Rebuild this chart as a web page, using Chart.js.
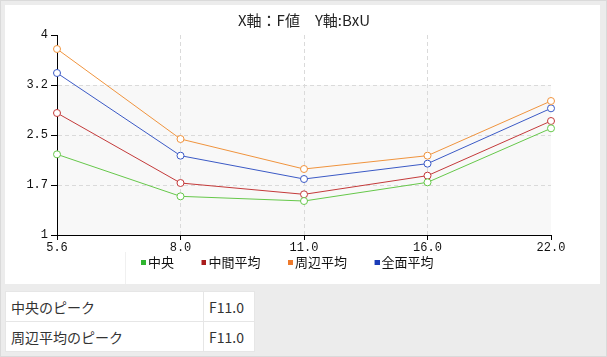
<!DOCTYPE html>
<html>
<head>
<meta charset="utf-8">
<script src="https://cdn.jsdelivr.net/npm/chart.js@4/dist/chart.umd.min.js"></script>
<style>
  html, body { margin: 0; padding: 0; }
  body { width: 607px; height: 357px; position: relative; overflow: hidden; background: #ececec; font-family: "Noto Sans CJK JP", "Noto Sans", sans-serif; }
  #frame { position: absolute; left: 0; top: 0; width: 605px; height: 355px; border: 1px solid #dadada; }
  #panel { position: absolute; left: 5px; top: 5px; width: 595px; height: 279px; background: #fff; }
  #faint { position: absolute; left: 125px; top: 252px; width: 1px; height: 32px; background: #f0f0f0; }
  #chartWrap { position: absolute; left: 0; top: 0; width: 607px; height: 283px; }
  table { position: absolute; left: 5px; top: 291px; border-collapse: collapse; }
  td { background: #fff; border: 1px solid #e6e6e6; height: 29px; padding: 0 0 0 5px; font-size: 14px; color: #333; white-space: nowrap; }
  td.k { width: 192px; }
  td.v { width: 45px; }
</style>
</head>
<body>
<div id="frame"></div>
<div id="panel"></div>
<div id="faint"></div>
<div id="chartWrap"><canvas id="c" width="607" height="283"></canvas></div>
<table id="peaks"></table>
<script>
const titleText = 'X軸：F値　Y軸:BxU';
const categories = ['5.6', '8.0', '11.0', '16.0', '22.0'];
const yTickLabels = ['1', '1.7', '2.5', '3.2', '4'];
const seriesNames = ['中央', '中間平均', '周辺平均', '全面平均'];
const chuo = [2.21, 1.58, 1.51, 1.79, 2.60];
const chukanHeikin = [2.83, 1.78, 1.61, 1.89, 2.71];
const shuhenHeikin = [3.79, 2.44, 1.99, 2.19, 3.01];
const zenmenHeikin = [3.43, 2.19, 1.84, 2.07, 2.90];
const peakLabels = ['中央のピーク', '周辺平均のピーク'];
const peakValues = ['F11.0', 'F11.0'];

const lineColors = ['#66c84a', '#c43a3a', '#f0943e', '#3b5ac6'];
const legendColors = ['#2fb52f', '#a91c1c', '#ee7a2c', '#1b3cb8'];
const seriesData = [chuo, chukanHeikin, shuhenHeikin, zenmenHeikin];

const tbl = document.getElementById('peaks');
peakLabels.forEach((lab, i) => {
  const tr = document.createElement('tr');
  const a = document.createElement('td'); a.className = 'k'; a.textContent = lab;
  const b = document.createElement('td'); b.className = 'v'; b.textContent = peakValues[i];
  tr.appendChild(a); tr.appendChild(b); tbl.appendChild(tr);
});

// legend marker: small square placed at the right end of a wider transparent image
const LEGEND_W = 24;
function makeMarker(color) {
  const cv = document.createElement('canvas');
  cv.width = LEGEND_W + 9; cv.height = 5;
  const c = cv.getContext('2d');
  c.fillStyle = color;
  c.fillRect(cv.width - 5, 0, 5, 5);
  return cv;
}
const markers = legendColors.map(makeMarker);

const bandPlugin = {
  id: 'band',
  beforeDraw(chart) {
    const {ctx, chartArea, scales} = chart;
    const yTop = scales.y.getPixelForValue(3.25);
    ctx.save();
    ctx.fillStyle = '#f8f8f8';
    ctx.fillRect(chartArea.left, yTop, chartArea.right - chartArea.left, chartArea.bottom - yTop);
    ctx.restore();
  }
};

const monoFont = { family: '"Liberation Mono", "DejaVu Sans Mono", monospace', size: 12 };
const cjkFont = '"Noto Sans CJK JP", "Noto Sans", sans-serif';
const PAD_B = 4;

new Chart(document.getElementById('c'), {
  type: 'line',
  data: {
    labels: categories,
    datasets: seriesData.map((d, i) => ({
      label: seriesNames[i],
      data: d,
      borderColor: lineColors[i],
      backgroundColor: legendColors[i],
      borderWidth: 1,
      pointRadius: 3.5,
      pointBorderWidth: 1,
      pointBackgroundColor: '#ffffff',
      pointBorderColor: lineColors[i],
      tension: 0,
      clip: false
    }))
  },
  options: {
    responsive: false,
    animation: false,
    devicePixelRatio: 1,
    layout: { padding: { left: 0, right: 56, top: 0, bottom: PAD_B } },
    plugins: {
      tooltip: { enabled: false },
      title: {
        display: true,
        text: titleText,
        fullSize: false,
        color: '#222',
        font: { family: cjkFont, size: 15, weight: 'normal', lineHeight: 1.2 },
        padding: { top: 11, bottom: 6 }
      },
      legend: {
        display: true,
        position: 'bottom',
        labels: {
          usePointStyle: true,
          pointStyleWidth: LEGEND_W,
          boxHeight: 5,
          padding: 4,
          color: '#111',
          font: { family: cjkFont, size: 13 },
          generateLabels(chart) {
            const items = Chart.defaults.plugins.legend.labels.generateLabels(chart);
            items.forEach((it, i) => { it.pointStyle = markers[i]; });
            return items;
          }
        }
      }
    },
    scales: {
      x: {
        type: 'category',
        offset: false,
        afterFit(scale) {
          const lg = scale.chart.legend;
          scale.height = Math.max(0, scale.chart.height - PAD_B - (lg ? lg.height : 0) - 235);
        },
        grid: {
          color: (ctx) => (ctx.index === 0 || ctx.index === categories.length - 1) ? 'rgba(0,0,0,0)' : '#dadada',
          tickColor: '#000',
          tickLength: 5,
          tickWidth: 1
        },
        border: { display: true, color: '#000', width: 1, dash: [4, 3] },
        ticks: { color: '#111', font: monoFont, padding: 1, maxRotation: 0, autoSkip: false }
      },
      y: {
        min: 1,
        max: 4,
        afterFit(scale) { scale.width = 57; },
        grid: {
          color: (ctx) => (ctx.index === 0 || ctx.index === yTickLabels.length - 1) ? 'rgba(0,0,0,0)' : '#dadada',
          tickColor: '#000',
          tickLength: 6,
          tickWidth: 1
        },
        border: { display: true, color: '#000', width: 1, dash: [4, 3] },
        ticks: {
          stepSize: 0.75,
          color: '#111',
          font: monoFont,
          padding: 3,
          callback: (v, i) => yTickLabels[i]
        }
      }
    }
  },
  plugins: [bandPlugin]
});
</script>
</body>
</html>
